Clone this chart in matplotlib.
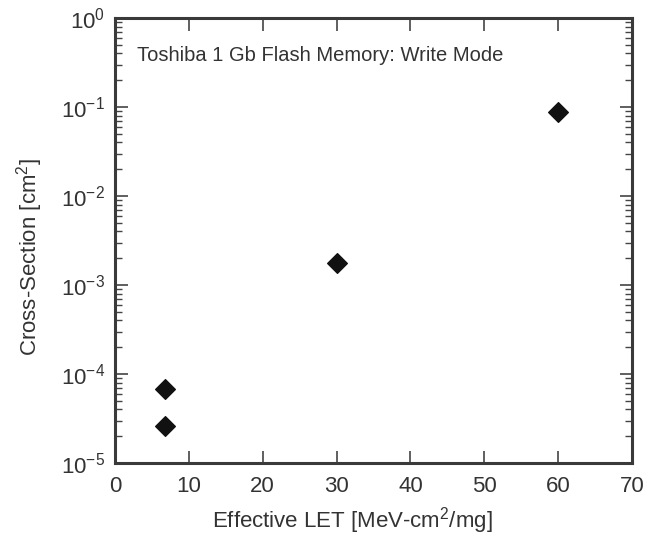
import matplotlib
matplotlib.use("Agg")
import matplotlib.pyplot as plt
from matplotlib.ticker import LogLocator, NullFormatter, MultipleLocator

plt.rcParams['font.family'] = ['Liberation Sans', 'DejaVu Sans']
plt.rcParams['mathtext.fontset'] = 'custom'
plt.rcParams['mathtext.rm'] = 'Liberation Sans'

# measured cross-sections, write mode
let_eff = [6.8, 6.8, 30, 60]
cross_section = [6.7e-5, 2.6e-5, 1.75e-3, 0.088]

fig = plt.figure(figsize=(6.6, 5.36), dpi=100)
ax = fig.add_axes([115 / 660, 1 - 463 / 536, 517 / 660, 445 / 536])

ax.scatter(let_eff, cross_section, marker='D', s=100, color='#111111', zorder=3)

ax.set_yscale('log')
ax.set_xlim(0, 70)
ax.set_ylim(1e-5, 1)
ax.xaxis.set_major_locator(MultipleLocator(10))
ax.yaxis.set_major_locator(LogLocator(base=10, numticks=10))
ax.yaxis.set_minor_locator(LogLocator(base=10, subs=range(2, 10), numticks=10))
ax.yaxis.set_minor_formatter(NullFormatter())

ax.tick_params(which='both', direction='in', top=True, right=True,
               color='#444444', labelcolor='#333333', labelsize=16)
ax.tick_params(which='major', length=9, width=1.2)
ax.tick_params(axis='x', which='major', pad=9)
ax.tick_params(axis='y', which='major', pad=7)
ax.tick_params(which='minor', length=5, width=1.0)
ax.tick_params(axis='x', which='minor', top=False, bottom=False)

for sp in ax.spines.values():
    sp.set_linewidth(2.2)
    sp.set_color('#3a3a3a')

# axis labels sit off-centre, place them in figure pixels
fig.text(352 / 660, 1 - 521 / 536, 'Effective LET [MeV-cm$^2$/mg]', fontsize=16,
         color='#333333', ha='center', va='center')
fig.text(30 / 660, 1 - 257 / 536, 'Cross-Section [cm$^2$]', fontsize=16,
         color='#333333', ha='center', va='center', rotation=90)

ax.text(0.042, 0.915, 'Toshiba 1 Gb Flash Memory: Write Mode', transform=ax.transAxes,
        fontsize=14.5, color='#333333', va='center', ha='left')

fig.savefig('out.png', dpi=100)
